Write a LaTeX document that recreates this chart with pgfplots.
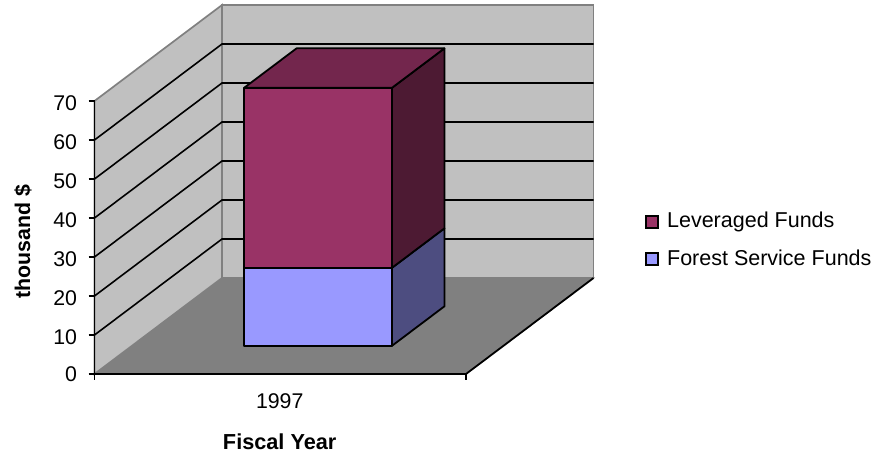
\documentclass[border=0pt]{standalone}
\usepackage{fontspec}
\setmainfont{Liberation Sans}
\usepackage{pgfplots}
\pgfplotsset{compat=1.18}
\definecolor{wall}{HTML}{C0C0C0}
\definecolor{floorc}{HTML}{808080}
\definecolor{lev}{HTML}{993366}
\definecolor{levtop}{HTML}{73264D}
\definecolor{levside}{HTML}{4D1A33}
\definecolor{fs}{HTML}{9999FF}
\definecolor{fsside}{HTML}{4D4D80}
\begin{document}
\begin{tikzpicture}[x=1pt,y=1pt]
\path[use as bounding box] (0,0) rectangle (875,455);
\begin{axis}[
  at={(94.5pt,81pt)}, anchor=origin,
  x={(371.5pt,0pt)}, y={(127.5pt,96pt)}, z={(0pt,3.9pt)},
  xmin=0, xmax=1, ymin=0, ymax=1, zmin=0, zmax=70,
  clip=false,
  axis on top,
  axis x line*=bottom, axis z line*=left, axis y line=none,
  axis line style={black, line width=1.8pt, -},
  xtick={0.5}, xticklabels={1997},
  ytick=\empty,
  ztick={0,10,...,70},
  major tick length=0pt,
  x tick label style={yshift=-16pt, xshift=5pt},
  z tick label style={xshift=-14pt, yshift=3pt},
  tick label style={font=\fontsize{21.3}{24}\selectfont},
  /pgf/number format/assume math mode=true,
  xlabel={Fiscal Year},
  xlabel style={at={(axis cs:0.4985,0,-17.4)}, anchor=center, font=\fontsize{21.7}{24}\selectfont\bfseries},
  zlabel={thousand \$},
  zlabel style={at={(axis cs:-0.1925,0,33.9)}, anchor=center, rotate=0, font=\fontsize{21.3}{24}\selectfont\bfseries},
  legend style={at={(axis cs:1.4808,0,41.5)}, anchor=north west, draw=none, fill=none,
    font=\fontsize{21.5}{24}\selectfont, row sep=20pt, column sep=8.5pt, inner sep=0pt,
    nodes={inner sep=0pt, anchor=base west}},
  legend cell align=left,
  legend image code/.code={\draw[#1] (0pt,0pt) rectangle (12pt,12pt);},
]
% floor and walls
\addplot3[forget plot, mark=none, fill=floorc, draw=floorc, line width=1pt] coordinates {(0,0,0)(1,0,0)(1,1,0)(0,1,0)} --cycle;
\addplot3[forget plot, mark=none, fill=wall, draw=floorc, line width=1.7pt] coordinates {(0,0,0)(0,1,0)(0,1,70)(0,0,70)} --cycle;
\addplot3[forget plot, mark=none, fill=wall, draw=floorc, line width=1.7pt] coordinates {(0,1,0)(1,1,0)(1,1,70)(0,1,70)} --cycle;
% gridlines
\pgfplotsinvokeforeach{10,20,30,40,50,60}{
  \addplot3[forget plot, mark=none, black, line width=1.6pt] coordinates {(0,0,#1)(0,1,#1)(1,1,#1)};
}
% tick marks on the value axis and the category axis
\pgfplotsinvokeforeach{0,10,20,30,40,50,60,70}{
  \addplot3[forget plot, mark=none, black, line width=1.8pt] coordinates {(-0.016,0,#1)(0,0,#1)};
}
\addplot3[forget plot, mark=none, black, line width=1.8pt] coordinates {(0,0,0)(0,0,-1.6)};
\addplot3[forget plot, mark=none, black, line width=1.8pt] coordinates {(1,0,0)(1,0,-1.6)};
% edge of the depth axis
\addplot3[forget plot, mark=none, black, line width=1.8pt] coordinates {(1,0,0)(1,1,0)};
% Forest Service Funds = 20
\addplot3[forget plot, mark=none, fill=fsside, draw=black, line width=1.8pt, line join=round] coordinates {(0.700,0.293,0)(0.700,0.705,0)(0.700,0.705,20)(0.700,0.293,20)} --cycle;
\addplot3[forget plot, mark=none, fill=fs, draw=black, line width=1.8pt, line join=round] coordinates {(0.302,0.293,0)(0.700,0.293,0)(0.700,0.293,20)(0.302,0.293,20)} --cycle;
% Leveraged Funds: from 20 to 66.15
\addplot3[forget plot, mark=none, fill=levside, draw=black, line width=1.8pt, line join=round] coordinates {(0.700,0.293,20)(0.700,0.705,20)(0.700,0.705,66.15)(0.700,0.293,66.15)} --cycle;
\addplot3[forget plot, mark=none, fill=lev, draw=black, line width=1.8pt, line join=round] coordinates {(0.302,0.293,20)(0.700,0.293,20)(0.700,0.293,66.15)(0.302,0.293,66.15)} --cycle;
\addplot3[forget plot, mark=none, fill=levtop, draw=black, line width=1.8pt, line join=round] coordinates {(0.302,0.293,66.15)(0.700,0.293,66.15)(0.700,0.705,66.15)(0.302,0.705,66.15)} --cycle;
\addlegendimage{fill=lev, draw=black, line width=1.8pt}
\addlegendentry{Leveraged Funds}
\addlegendimage{fill=fs, draw=black, line width=1.8pt}
\addlegendentry{Forest Service Funds}
\end{axis}
\end{tikzpicture}
\end{document}
